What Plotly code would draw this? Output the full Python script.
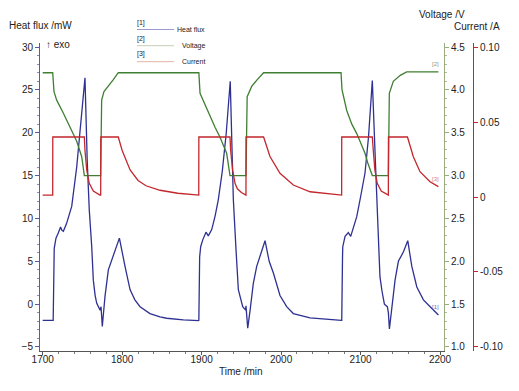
import plotly.graph_objects as go

# ---------------- data ----------------
hf_time = [1700, 1713.2, 1714.5, 1716.7, 1719.6, 1722.5, 1724.2, 1726, 1730, 1736.5, 1742.8, 1747, 1750,
           1753.2, 1756, 1758.6, 1761.7, 1763.7, 1766, 1768, 1772.2, 1773.4, 1775, 1778.4, 1782.6, 1788.9,
           1796.5, 1803.6, 1809.9, 1816, 1822.5, 1835, 1847.6, 1856, 1877, 1896,
           1896.5, 1897.5, 1898.8, 1901.4, 1905.5, 1908.4, 1912.7, 1917, 1921, 1926, 1931, 1936,
           1939.9, 1943.3, 1946.2, 1951.7, 1955.4, 1955.8, 1958, 1961, 1965, 1969.3, 1974, 1979.8,
           1985, 1990.4, 1998.6, 2007, 2015.4, 2036.4, 2076,
           2076.3, 2077.3, 2077.6, 2080.5, 2084.6, 2087.6, 2091, 2095.2, 2100, 2105.6, 2110, 2114.8,
           2118.6, 2122.8, 2124.4, 2127, 2130, 2133.7, 2135, 2136.3, 2139.4, 2143.4, 2147.6, 2154,
           2159.4, 2164.5, 2170.8, 2179.1, 2187.6, 2198]
hf_value = [-1.9, -1.9, 6.5, 7.7, 8.3, 9.0, 8.6, 8.5, 9.4, 11.4, 16.0, 20.5, 23.5,
            26.4, 16.8, 11.0, 6.7, 2.8, 1.0, 0.1, -0.7, -0.3, -2.6, 0.9, 4.0, 5.7,
            7.7, 4.4, 1.7, 0.5, -0.3, -1.1, -1.5, -1.65, -1.84, -1.92,
            -1.9, 5.5, 6.7, 7.5, 8.4, 7.96, 8.7, 10.3, 12.2, 15.5, 20.0, 26.0,
            12.2, 6.3, 1.7, -0.3, -0.7, -0.2, -2.8, -0.7, 2.4, 4.4, 5.8, 7.4,
            5.0, 3.6, 1.0, -0.3, -1.1, -1.6, -1.9,
            -1.9, 5.5, 6.7, 7.9, 8.35, 7.9, 9.0, 10.2, 12.5, 15.3, 19.5, 26.1,
            16.8, 7.1, 3.2, 1.5, 0.0, -0.3, -1.0, -2.9, -0.3, 2.8, 5.0, 6.1,
            7.4, 4.4, 2.0, 0.5, -0.3, -1.26]

v_time = [1700, 1712.6, 1714.2, 1717.6, 1725.9, 1734.4, 1742.8, 1749.1, 1752.4, 1772.9, 1774.2, 1777.1,
          1782.6, 1788.9, 1795.1, 1896.5, 1898, 1904, 1910.5, 1917, 1923, 1931.5, 1935.7, 1955.8,
          1957.3, 1963, 1970, 1978, 2075.4, 2076.7, 2082.6, 2089, 2095.2, 2105.6, 2109, 2114.8,
          2135, 2136.2, 2141.2, 2150, 2158, 2198]
v_value = [4.2, 4.2, 3.98, 3.88, 3.73, 3.57, 3.4, 3.22, 3.0, 3.0, 3.88, 3.98,
           4.04, 4.12, 4.2, 4.2, 3.96, 3.83, 3.69, 3.56, 3.45, 3.26, 3.0, 3.0,
           3.92, 4.04, 4.12, 4.2, 4.2, 4.0, 3.76, 3.6, 3.49, 3.26, 3.15, 3.0,
           3.0, 3.96, 4.1, 4.17, 4.21, 4.21]

i_time = [1700, 1712.6, 1712.7, 1752.4, 1753.2, 1755.4, 1758.6, 1763.7, 1772, 1773, 1773.1, 1795.1,
          1800, 1805, 1810, 1820, 1830, 1847.6, 1870, 1896.4, 1896.5, 1935.7, 1936.5, 1939,
          1942, 1945, 1950, 1955.8, 1955.9, 1978, 1986, 1998.6, 2015.4, 2036.4, 2076.2,
          2076.3, 2114.8, 2116, 2118, 2121, 2126, 2135, 2135.1, 2159, 2166.4, 2174.8, 2187.4, 2197.9]
i_value = [0.0013, 0.0013, 0.040, 0.040, 0.031, 0.018, 0.0091, 0.004, 0.0013, 0.0013, 0.040, 0.040,
           0.031, 0.024, 0.018, 0.011, 0.0075, 0.0045, 0.0025, 0.0013, 0.040, 0.040, 0.031, 0.018,
           0.0091, 0.0055, 0.003, 0.0013, 0.040, 0.040, 0.027, 0.0158, 0.008, 0.0035, 0.0013,
           0.040, 0.040, 0.031, 0.018, 0.0091, 0.004, 0.0013, 0.040, 0.040, 0.0269, 0.0169, 0.0102, 0.0069]

x_ticks = [1700, 1800, 1900, 2000, 2100, 2200]
hf_ticks = [-5, 0, 5, 10, 15, 20, 25, 30]
v_ticks = [1.0, 1.5, 2.0, 2.5, 3.0, 3.5, 4.0, 4.5]
i_ticks = [-0.10, -0.05, 0, 0.05, 0.10]
i_tick_labels = ["-0.10", "-0.05", "0", "0.05", "0.10"]

# ---------------- styling ----------------
BLUE = "#2e3192"
GREEN = "#3f7f32"
RED = "#c2272d"
FONT = "Liberation Sans, Arial, sans-serif"
TXT = "#222222"

W, H = 519, 391
L, R, T, B = 40, 46, 43, 40
PW, PH = W - L - R, H - T - B


def px(x):
    return (x - L) / PW


def py(y):
    return (H - B - y) / PH


fig = go.Figure()
fig.add_trace(go.Scatter(x=hf_time, y=hf_value, mode="lines", line=dict(color=BLUE, width=1.3),
                         xaxis="x", yaxis="y", showlegend=False))
fig.add_trace(go.Scatter(x=v_time, y=v_value, mode="lines", line=dict(color=GREEN, width=1.3),
                         xaxis="x", yaxis="y2", showlegend=False))
fig.add_trace(go.Scatter(x=i_time, y=i_value, mode="lines", line=dict(color=RED, width=1.3),
                         xaxis="x", yaxis="y3", showlegend=False))

tickfont = dict(family=FONT, size=10, color=TXT)

fig.update_layout(
    width=W, height=H,
    margin=dict(l=L, r=R, t=T, b=B, pad=0),
    paper_bgcolor="white", plot_bgcolor="white",
    font=dict(family=FONT, color=TXT),
    xaxis=dict(domain=[0, (444 - L) / PW], range=[1696.6, 2205], tickvals=x_ticks,
               showgrid=False, zeroline=False, showline=True, linecolor="#555555", linewidth=1,
               ticks="outside", ticklen=3, tickcolor="#555555", tickfont=tickfont,
               ticklabelstandoff=-4,
               minor=dict(dtick=20, ticks="outside", ticklen=2, tickcolor="#777777"),
               anchor="y"),
    yaxis=dict(range=[-5.47, 30.47], tickvals=hf_ticks, showgrid=False, zeroline=False,
               showline=True, linecolor="#5a5aa8", linewidth=1, ticks="outside", ticklen=4,
               tickcolor="#5a5aa8", tickfont=tickfont,
               minor=dict(dtick=1, ticks="outside", ticklen=2, tickcolor="#8a8ac0"),
               anchor="x"),
    yaxis2=dict(range=[0.953, 4.547], tickvals=v_ticks, tickformat=".1f", overlaying="y", side="right",
                anchor="x", showgrid=False, zeroline=False, showline=True, linecolor="#9aab80",
                linewidth=1, ticks="outside", ticklen=4, tickcolor="#9aab80", tickfont=tickfont,
                minor=dict(dtick=0.1, ticks="outside", ticklen=2, tickcolor="#b0bc98")),
    yaxis3=dict(range=[-0.1027, 0.1027], tickvals=i_ticks, ticktext=i_tick_labels, overlaying="y",
                side="right", anchor="free", position=1.0, showgrid=False, zeroline=False,
                showline=True, linecolor=RED, linewidth=1, ticks="outside", ticklen=4,
                tickcolor=RED, tickfont=tickfont),
)

ann = []


def text(s, x, y, size=10, color=TXT, xanchor="left"):
    ann.append(dict(text=s, x=px(x), y=py(y), xref="paper", yref="paper", showarrow=False,
                    xanchor=xanchor, yanchor="middle", font=dict(family=FONT, size=size, color=color)))


text("Heat flux /mW", 7, 25.5)
text("↑ exo", 44, 45)
text("Voltage /V", 417, 14)
text("Current /A", 452, 27)
text("Time /min", 241, 371, xanchor="center")

# legend block
leg = [("[1]", "Heat flux", "#9a9ad2", 22.5, 29.5),
       ("[2]", "Voltage", "#c6cfb6", 38.5, 45.7),
       ("[3]", "Current", "#e4b4a6", 54, 61.7)]
shapes = []
for tag, name, col, ytag, yline in leg:
    text(tag, 135, ytag, size=7)
    text(name, 207, yline, size=7, xanchor="right")
    shapes.append(dict(type="line", xref="paper", yref="paper", x0=px(137), x1=px(174),
                       y0=py(yline), y1=py(yline), line=dict(color=col, width=1)))

# curve end tags
text("[2]", 435, 64, size=6, color="#8a9a80", xanchor="center")
text("[3]", 435, 179, size=6, color="#d08080", xanchor="center")
text("[1]", 435, 307, size=6, color="#6a6ac0", xanchor="center")

fig.update_layout(annotations=ann, shapes=shapes)
fig.write_html("out.html", config={"displayModeBar": False},
               post_script="document.body.style.margin='0';document.body.style.overflow='hidden';")
